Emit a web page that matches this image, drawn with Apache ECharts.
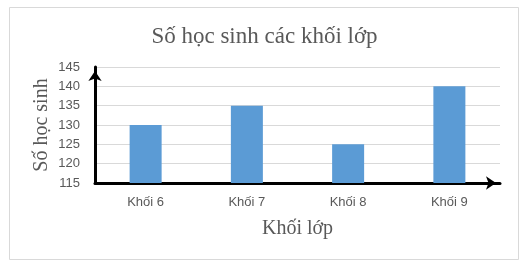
<!DOCTYPE html>
<html>
<head>
<meta charset="utf-8">
<script src="https://cdn.jsdelivr.net/npm/echarts@6/dist/echarts.min.js"></script>
<style>html,body{margin:0;padding:0;background:#fff;}#c{width:529px;height:269px;}</style>
</head>
<body>
<div id="c"></div>
<script>
const titleText = 'Số học sinh các khối lớp';
const categories = ['Khối 6', 'Khối 7', 'Khối 8', 'Khối 9'];
const values = [130, 135, 125, 140];
const yName = 'Số học sinh';
const xName = 'Khối lớp';
const yMin = 115, yMax = 145, yStep = 5;

const chart = echarts.init(document.getElementById('c'), null, {renderer: 'canvas'});
const serif = '"Liberation Serif", "DejaVu Serif", serif';
const sans = '"Liberation Sans", Arial, sans-serif';
chart.setOption({
  animation: false,
  backgroundColor: '#fff',
  graphic: [{
    type: 'rect', z: -10, silent: true,
    shape: {x: 9.5, y: 7.5, width: 509, height: 252},
    style: {fill: '#fff', stroke: '#d9d9d9', lineWidth: 1}
  }],
  title: {
    text: titleText, left: 'center', top: 20,
    textStyle: {fontFamily: serif, fontSize: 23, fontWeight: 'normal', color: '#595959'}
  },
  grid: {left: 95, right: 29, top: 67, bottom: 86, containLabel: false},
  xAxis: {
    type: 'category', data: categories,
    name: xName, nameLocation: 'middle', nameGap: 36, nameMoveOverlap: false,
    nameTextStyle: {fontFamily: serif, fontSize: 20, color: '#595959'},
    axisLine: {show: true, lineStyle: {color: '#000', width: 3}, symbol: ['none', 'arrow'], symbolSize: [10, 10], symbolOffset: [0, -4]},
    axisTick: {show: false},
    axisLabel: {fontFamily: sans, fontSize: 13, color: '#595959', margin: 13},
    splitLine: {show: false}
  },
  yAxis: {
    type: 'value', min: yMin, max: yMax, interval: yStep,
    name: yName, nameLocation: 'middle', nameGap: 43, nameRotate: 90, nameMoveOverlap: false,
    nameTextStyle: {fontFamily: serif, fontSize: 20, color: '#595959'},
    axisLine: {show: true, lineStyle: {color: '#000', width: 3}, symbol: ['none', 'arrow'], symbolSize: [10, 10], symbolOffset: [0, -4]},
    axisTick: {show: false},
    axisLabel: {fontFamily: sans, fontSize: 13, color: '#595959', margin: 15},
    splitLine: {show: true, lineStyle: {color: '#d9d9d9', width: 1}}
  },
  series: [{
    type: 'bar', data: values, barWidth: 32,
    itemStyle: {color: '#5b9bd5'}
  }]
});
</script>
</body>
</html>
